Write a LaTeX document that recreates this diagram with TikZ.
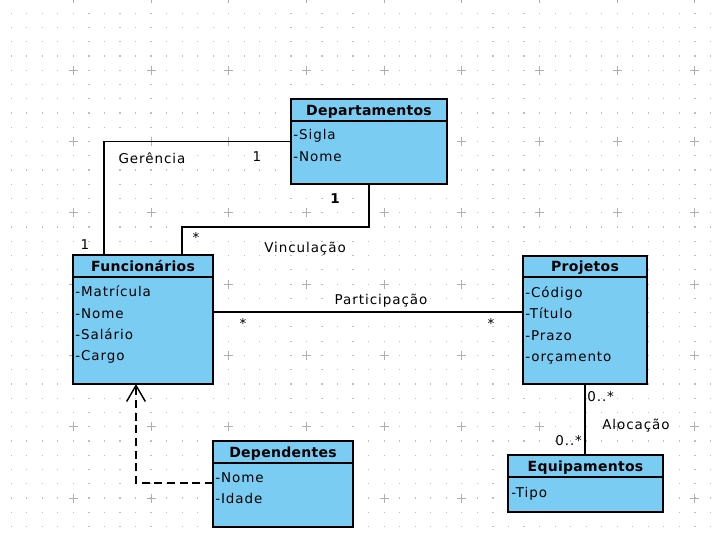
\documentclass[tikz,border=0pt]{standalone}
\usepackage{fontspec}
\setmainfont{DejaVu Sans}[LetterSpace=7]
\newfontfamily\titlefont{DejaVu Sans}[LetterSpace=2]
\usetikzlibrary{calc,arrows.meta}
\definecolor{boxfill}{RGB}{122,204,242}
\definecolor{griddot}{RGB}{190,190,190}
\definecolor{gridplus}{RGB}{175,175,175}
\tikzset{
  umlbox/.style={draw=black, fill=boxfill, line width=1.5pt, inner sep=0pt, outer sep=0pt, anchor=north west},
  sepline/.style={line width=1.5pt, black},
  boxtitle/.style={font=\titlefont\bfseries\fontsize{10.5pt}{12pt}\selectfont, inner sep=0pt, anchor=base},
  attr/.style={font=\fontsize{10.1pt}{12pt}\selectfont, inner sep=0pt, anchor=base west},
  lbl/.style={font=\fontsize{10.1pt}{12pt}\selectfont, inner sep=0pt, anchor=base},
  star/.style={font=\fontsize{10.1pt}{12pt}\selectfont, inner sep=0pt, anchor=center},
  conn/.style={line width=1.1pt, black},
}
\begin{document}
\begin{tikzpicture}[x=0.75pt, y=-0.75pt]
\useasboundingbox (0,0) rectangle (720,540);
\fill[white] (0,0) rectangle (720,540);
% grid
\foreach \i in {0,...,45}{
  \foreach \j in {0,...,37}{
    \fill[griddot] ({11.2+15.54*\i-0.6},{-1.1+14.26*\j-0.6}) rectangle ++(1.2,1.2);
  }
}
\foreach \i in {0,...,8}{
  \foreach \j in {0,...,7}{
    \draw[gridplus, line width=0.75pt] ({73.3+77.7*\i-4.5},{-1.1+71.3*\j}) -- ++(9,0)
      ({73.3+77.7*\i},{-1.1+71.3*\j-4.5}) -- ++(0,9);
  }
}
% boxes
\node[umlbox, minimum width=156*0.75pt, minimum height=85*0.75pt] (dep) at (291,99) {};
\node[umlbox, minimum width=140*0.75pt, minimum height=129*0.75pt] (fun) at (73,255) {};
\node[umlbox, minimum width=140*0.75pt, minimum height=86*0.75pt] (dpd) at (213,441) {};
\node[umlbox, minimum width=124*0.75pt, minimum height=128*0.75pt] (proj) at (523,256) {};
\node[umlbox, minimum width=155*0.75pt, minimum height=57*0.75pt] (equ) at (508,455) {};
% separators
\draw[sepline] ($(dep.north west)+(0,22)$) -- ($(dep.north east)+(0,22)$);
\draw[sepline] ($(fun.north west)+(0,22)$) -- ($(fun.north east)+(0,22)$);
\draw[sepline] ($(dpd.north west)+(0,22)$) -- ($(dpd.north east)+(0,22)$);
\draw[sepline] ($(proj.north west)+(0,21)$) -- ($(proj.north east)+(0,21)$);
\draw[sepline] ($(equ.north west)+(0,22)$) -- ($(equ.north east)+(0,22)$);
% titles
\node[boxtitle] (depT) at ($(dep.north)+(0,16.5)$) {Departamentos};
\node[boxtitle] (funT) at ($(fun.north)+(0,16.5)$) {Funcionários};
\node[boxtitle] (dpdT) at ($(dpd.north)+(0,16)$) {Dependentes};
\node[boxtitle] (projT) at ($(proj.north)+(0,15.5)$) {Projetos};
\node[boxtitle] (equT) at ($(equ.north)+(0,16.5)$) {Equipamentos};
% attributes
\node[attr] (depA1) at ($(dep.north west)+(2,40)$) {-Sigla};
\node[attr] (depA2) at ($(dep.north west)+(2,62)$) {-Nome};
\node[attr] (funA1) at ($(fun.north west)+(2,41)$) {-Matrícula};
\node[attr] (funA2) at ($(fun.north west)+(2,63)$) {-Nome};
\node[attr] (funA3) at ($(fun.north west)+(2,84)$) {-Salário};
\node[attr] (funA4) at ($(fun.north west)+(2,105)$) {-Cargo};
\node[attr] (dpdA1) at ($(dpd.north west)+(2,41)$) {-Nome};
\node[attr] (dpdA2) at ($(dpd.north west)+(2,62)$) {-Idade};
\node[attr] (projA1) at ($(proj.north west)+(2,41)$) {-Código};
\node[attr] (projA2) at ($(proj.north west)+(2,62)$) {-Título};
\node[attr] (projA3) at ($(proj.north west)+(2,84)$) {-Prazo};
\node[attr] (projA4) at ($(proj.north west)+(2,105)$) {-orçamento};
\node[attr] (equA1) at ($(equ.north west)+(3,42)$) {-Tipo};
% connectors
\coordinate (gerF) at ($(fun.north west)+(31,0)$);
\draw[conn] (dep.west) -| (gerF);
\coordinate (vinD) at ($(dep.south)+(0,43)$);
\coordinate (vinF) at ($(fun.north west)+(109,0)$);
\draw[conn] (dep.south) -- (vinD) -| (vinF);
\coordinate (parF) at ($(fun.north east)+(0,57)$);
\coordinate (parP) at (parF -| proj.west);
\draw[conn] (parF) -- (parP);
\coordinate (aloE) at (proj.south |- equ.north);
\draw[line width=1.5pt] (proj.south) -- (aloE);
\coordinate (depS) at ($(dpd.north west)+(0,42)$);
\coordinate (depTip) at ($(fun.south west)+(63,0)$);
\draw[conn, dash pattern=on 6pt off 3.5pt, -{Straight Barb[length=12pt, width=14pt]}] (depS) -| (depTip);
% labels
\node[lbl] (lGer) at (152,163) {Gerência};
\node[lbl] (lGer1) at (257,161) {1};
\node[lbl] (lGer2) at (85,249) {1};
\node[lbl, font=\bfseries\fontsize{10.1pt}{12pt}\selectfont] (lVin1) at (335,203) {1};
\node[star] (lVin2) at (196,237) {*};
\node[lbl] (lVin) at (305,252) {Vinculação};
\node[lbl] (lPar) at (381,304) {Participação};
\node[star] (lPar1) at (243,323) {*};
\node[star] (lPar2) at (491,323) {*};
\node[lbl, anchor=base west] (lAlo1) at (587,401) {0..*};
\node[lbl, anchor=base west] (lAlo) at (602,429) {Alocação};
\node[lbl, anchor=base west] (lAlo2) at (555,445) {0..*};
\end{tikzpicture}
\end{document}
